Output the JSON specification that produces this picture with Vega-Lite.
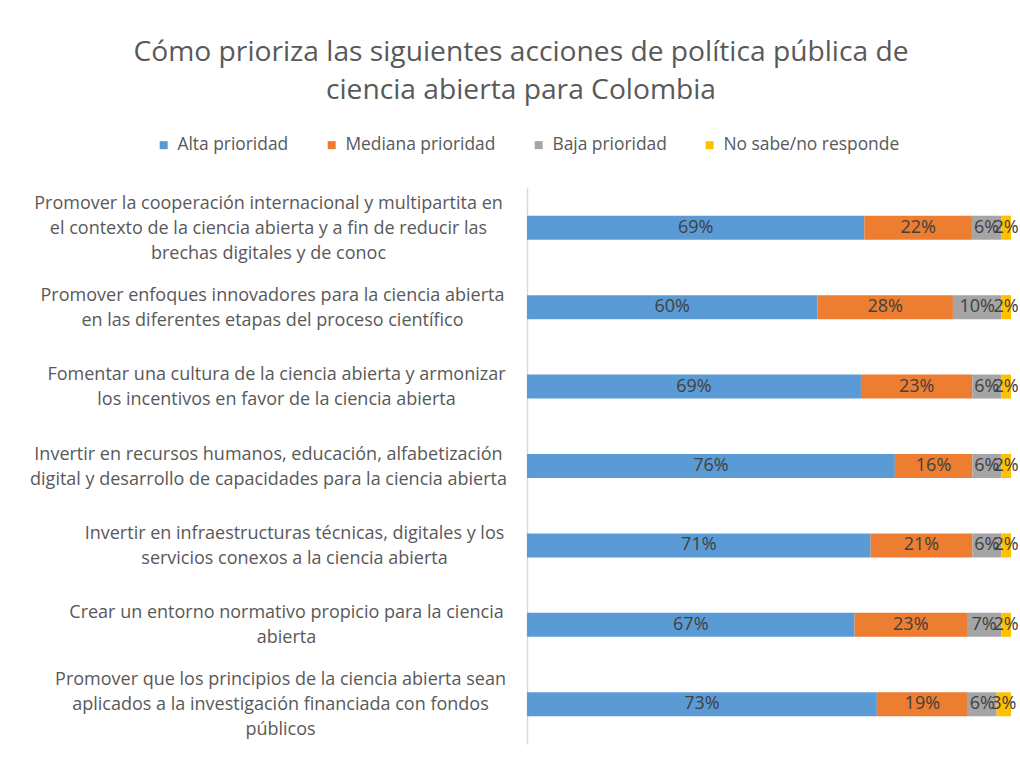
{
  "$schema": "https://vega.github.io/schema/vega-lite/v6.json",
  "autosize": {"type": "none"},
  "width": 484,
  "height": 556,
  "padding": {"left": 527, "top": 188, "right": 9, "bottom": 20},
  "background": "white",
  "config": {"view": {"stroke": null}, "font": "Open Sans"},
  "title": {
    "text": ["Cómo prioriza las siguientes acciones de política pública de", "ciencia abierta para Colombia"],
    "anchor": "middle",
    "dx": -248,
    "fontSize": 28.2,
    "font": "Open Sans",
    "fontWeight": "normal",
    "color": "#595959",
    "lineHeight": 38,
    "offset": 31
  },
  "datasets": {
    "acciones": [
      {"id": "1", "accion": "Promover la cooperación internacional y multipartita en\nel contexto de la ciencia abierta y a fin de reducir las\nbrechas digitales y de conoc"},
      {"id": "2", "accion": "Promover enfoques innovadores para la ciencia abierta\nen las diferentes etapas del proceso científico"},
      {"id": "3", "accion": "Fomentar una cultura de la ciencia abierta y armonizar\nlos incentivos en favor de la ciencia abierta"},
      {"id": "4", "accion": "Invertir en recursos humanos, educación, alfabetización\ndigital y desarrollo de capacidades para la ciencia abierta"},
      {"id": "5", "accion": "Invertir en infraestructuras técnicas, digitales y los\nservicios conexos a la ciencia abierta"},
      {"id": "6", "accion": "Crear un entorno normativo propicio para la ciencia\nabierta"},
      {"id": "7", "accion": "Promover que los principios de la ciencia abierta sean\naplicados a la investigación financiada con fondos\npúblicos"}
    ]
  },
  "data": {
    "values": [
      {"id": "1", "nivel": "Alta prioridad", "v": 69},
      {"id": "1", "nivel": "Mediana prioridad", "v": 22},
      {"id": "1", "nivel": "Baja prioridad", "v": 6},
      {"id": "1", "nivel": "No sabe/no responde", "v": 2},
      {"id": "2", "nivel": "Alta prioridad", "v": 60},
      {"id": "2", "nivel": "Mediana prioridad", "v": 28},
      {"id": "2", "nivel": "Baja prioridad", "v": 10},
      {"id": "2", "nivel": "No sabe/no responde", "v": 2},
      {"id": "3", "nivel": "Alta prioridad", "v": 69},
      {"id": "3", "nivel": "Mediana prioridad", "v": 23},
      {"id": "3", "nivel": "Baja prioridad", "v": 6},
      {"id": "3", "nivel": "No sabe/no responde", "v": 2},
      {"id": "4", "nivel": "Alta prioridad", "v": 76},
      {"id": "4", "nivel": "Mediana prioridad", "v": 16},
      {"id": "4", "nivel": "Baja prioridad", "v": 6},
      {"id": "4", "nivel": "No sabe/no responde", "v": 2},
      {"id": "5", "nivel": "Alta prioridad", "v": 71},
      {"id": "5", "nivel": "Mediana prioridad", "v": 21},
      {"id": "5", "nivel": "Baja prioridad", "v": 6},
      {"id": "5", "nivel": "No sabe/no responde", "v": 2},
      {"id": "6", "nivel": "Alta prioridad", "v": 67},
      {"id": "6", "nivel": "Mediana prioridad", "v": 23},
      {"id": "6", "nivel": "Baja prioridad", "v": 7},
      {"id": "6", "nivel": "No sabe/no responde", "v": 2},
      {"id": "7", "nivel": "Alta prioridad", "v": 73},
      {"id": "7", "nivel": "Mediana prioridad", "v": 19},
      {"id": "7", "nivel": "Baja prioridad", "v": 6},
      {"id": "7", "nivel": "No sabe/no responde", "v": 3}
    ]
  },
  "transform": [
    {"lookup": "id", "from": {"data": {"name": "acciones"}, "key": "id", "fields": ["accion"]}},
    {"calculate": "indexof(['Alta prioridad','Mediana prioridad','Baja prioridad','No sabe/no responde'], datum.nivel)", "as": "o"},
    {"stack": "v", "groupby": ["id"], "sort": [{"field": "o", "order": "ascending"}], "offset": "normalize", "as": ["x0", "x1"]},
    {"calculate": "(datum.x0 + datum.x1) / 2", "as": "xm"},
    {"calculate": "datum.v + '%'", "as": "lab"}
  ],
  "encoding": {
    "y": {
      "field": "accion",
      "type": "nominal",
      "sort": null,
      "title": null,
      "scale": {"paddingInner": 0, "paddingOuter": 0},
      "axis": {
        "ticks": false,
        "tickSize": 0,
        "grid": false,
        "domain": true,
        "domainColor": "#d9d9d9",
        "domainWidth": 1.5,
        "labelExpr": "split(datum.label, '\\n')",
        "labelAlign": "center",
        "labelBaseline": "middle",
        "labelPadding": {"expr": "indexof(datum.value, 'cooperación') >= 0 ? 259 : indexof(datum.value, 'enfoques') >= 0 ? 255 : indexof(datum.value, 'Fomentar') >= 0 ? 251 : indexof(datum.value, 'recursos') >= 0 ? 259 : indexof(datum.value, 'infraestructuras') >= 0 ? 233 : indexof(datum.value, 'Crear') >= 0 ? 241 : 247"},
        "labelOffset": {"expr": "-(length(split(datum.value, '\\n')) - 1) * 12.5 + 1"},
        "labelLimit": 0,
        "labelFont": "Open Sans",
        "labelFontSize": 18,
        "labelLineHeight": 25,
        "labelColor": "#595959"
      }
    }
  },
  "layer": [
    {
      "mark": {"type": "bar", "size": 24},
      "encoding": {
        "x": {"field": "x0", "type": "quantitative", "scale": {"domain": [0, 1]}, "axis": null},
        "x2": {"field": "x1"},
        "color": {
          "field": "nivel",
          "type": "nominal",
          "title": null,
          "scale": {
            "domain": ["Alta prioridad", "Mediana prioridad", "Baja prioridad", "No sabe/no responde"],
            "range": ["#5b9bd5", "#ed7d31", "#a5a5a5", "#ffc000"]
          },
          "legend": {
            "orient": "none",
            "legendX": -372,
            "legendY": -52,
            "direction": "horizontal",
            "symbolType": "square",
            "symbolSize": 64,
            "symbolStrokeWidth": 0,
            "labelFont": "Open Sans",
            "labelFontSize": 17.4,
            "labelLimit": 0,
            "labelColor": "#595959",
            "labelOffset": 5,
            "columnPadding": 34,
            "padding": 0
          }
        }
      }
    },
    {
      "mark": {"type": "text", "fontSize": 18, "font": "Open Sans", "color": "#404040", "baseline": "middle", "align": "center"},
      "encoding": {
        "x": {"field": "xm", "type": "quantitative", "scale": {"domain": [0, 1]}, "axis": null},
        "text": {"field": "lab"}
      }
    }
  ]
}
